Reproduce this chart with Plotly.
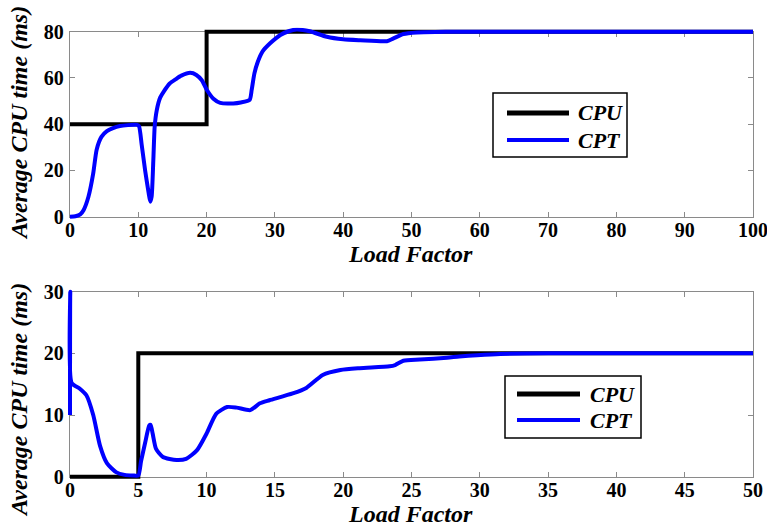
import plotly.graph_objects as go

# ---------------- data ----------------
cpu_top_x = [0, 20, 20, 100]
cpu_top_y = [40, 40, 80, 80]

cpt_top_x = [0, 0.8, 1.5, 2.0, 2.7, 3.4, 3.9, 4.6, 5.4, 6.3, 7.3, 8.5, 9.8,
             10.1, 10.5, 11.0, 11.5, 11.75, 11.95, 12.2, 12.4, 12.7, 13.2, 13.7,
             14.6, 15.5, 16.3, 17.6, 18.5, 19.3, 20.0, 21.0, 22.0, 23.9, 25.0,
             26.3, 26.6, 27.0, 27.5, 28.2, 29.3, 30.8, 32.0, 33.2, 35.1, 37.6,
             40.0, 42.5, 46.4, 47.3, 48.8, 50.8, 55, 60, 70, 80, 90, 100]
cpt_top_y = [0, 0.2, 1, 2.9, 8.6, 18.7, 29, 34.5, 37, 38.3, 39.2, 39.6, 39.7,
             39.2, 31, 20, 10.5, 6.5, 8.6, 24.5, 39, 46, 51.5, 54, 57.6, 59.5,
             61, 62.2, 61.3, 59, 55, 51, 49.2, 49, 49.4, 50.5, 54.8, 62, 67,
             71.5, 75, 78.6, 80.2, 81, 80.2, 77.8, 76.7, 76.3, 75.9, 77, 79,
             79.7, 80, 80, 80, 80, 80, 80]

cpu_bot_x = [0, 5, 5, 50]
cpu_bot_y = [0, 0, 20, 20]

cpt_bot_x = [0, 0.02, 0.12, 0.7, 1.2, 1.7, 2.2, 2.7, 3.4, 4.0, 4.6, 5.0, 5.2,
             5.5, 5.8, 5.9, 6.05, 6.3, 6.8, 7.8, 8.5, 9.3, 10.0, 10.7, 11.5,
             12.2, 13.2, 13.9, 14.6, 16.3, 17.3, 18.5, 19.8, 21.2, 23.4, 23.8,
             24.4, 25.6, 27.6, 28.5, 29.8, 31.5, 35, 40, 45, 50]
cpt_bot_y = [10, 30, 15.2, 14.3, 13.2, 10, 5, 2.2, 0.7, 0.3, 0.2, 0.2, 2.5,
             5.5, 8.3, 8.4, 7, 4.5, 3.2, 2.7, 2.9, 4.3, 7, 10.2, 11.3, 11.2,
             10.8, 11.9, 12.4, 13.5, 14.4, 16.5, 17.3, 17.6, 17.9, 18.1, 18.8,
             19.0, 19.3, 19.5, 19.7, 19.9, 20, 20, 20, 20]

top_xticks = [0, 10, 20, 30, 40, 50, 60, 70, 80, 90, 100]
top_yticks = [0, 20, 40, 60, 80]
bot_xticks = [0, 5, 10, 15, 20, 25, 30, 35, 40, 45, 50]
bot_yticks = [0, 10, 20, 30]

series_names = ["CPU", "CPT"]
series_colors = ["#000000", "#0000ff"]

# ---------------- layout helpers ----------------
W, H = 767, 528
ML, MR = 60, 4
PW = W - ML - MR
SERIF = '"Liberation Serif", "Times New Roman", Times, serif'
EXT = 4  # px: let the data lines run a few px past the frame (no clipping)

PLOT_L, PLOT_R = 70, 753
TOP_T, TOP_B = 31.7, 216.7
BOT_T, BOT_B = 291.7, 476.7


def px_x(p):
    return (p - ML) / PW


def px_y(p):
    return 1 - p / H


def ext_range(lo, hi, span_px):
    u = (hi - lo) / span_px * EXT
    return [lo - u, hi + u]


fig = go.Figure()

# empty traces so the framed (visible) axes get drawn
fig.add_trace(go.Scatter(x=[], y=[], mode="lines", xaxis="x", yaxis="y",
                         showlegend=False, hoverinfo="skip"))
fig.add_trace(go.Scatter(x=[], y=[], mode="lines", xaxis="x2", yaxis="y2",
                         showlegend=False, hoverinfo="skip"))

line_common = dict(width=4)
fig.add_trace(go.Scatter(x=cpu_top_x, y=cpu_top_y, mode="lines",
                         line=dict(color=series_colors[0], **line_common),
                         xaxis="x3", yaxis="y3", showlegend=False))
fig.add_trace(go.Scatter(x=cpt_top_x, y=cpt_top_y, mode="lines",
                         line=dict(color=series_colors[1], shape="spline",
                                   smoothing=0.6, **line_common),
                         xaxis="x3", yaxis="y3", showlegend=False))
fig.add_trace(go.Scatter(x=cpu_bot_x, y=cpu_bot_y, mode="lines",
                         line=dict(color=series_colors[0], **line_common),
                         xaxis="x4", yaxis="y4", showlegend=False))
fig.add_trace(go.Scatter(x=cpt_bot_x, y=cpt_bot_y, mode="lines",
                         line=dict(color=series_colors[1], shape="spline",
                                   smoothing=0.6, **line_common),
                         xaxis="x4", yaxis="y4", showlegend=False))

tickfont = dict(family=SERIF, size=20, color="black", weight="bold")
axis_common = dict(showline=True, linecolor="#8a8a8a", linewidth=1.3,
                   mirror="allticks", ticks="inside", ticklen=5,
                   tickcolor="#8a8a8a", tickwidth=1.3, showgrid=False,
                   zeroline=False, tickfont=tickfont, automargin=False,
                   ticklabeloverflow="allow")
xaxis_common = dict(ticklabelstandoff=-5, **axis_common)
yaxis_common = dict(ticklabelstandoff=1, **axis_common)
hidden = dict(visible=False, showgrid=False, zeroline=False, fixedrange=True)

xdom = [px_x(PLOT_L), px_x(PLOT_R)]
xdom_e = [px_x(PLOT_L - EXT), px_x(PLOT_R + EXT)]

fig.update_layout(
    width=W, height=H,
    margin=dict(l=ML, r=MR, t=0, b=0),
    paper_bgcolor="white", plot_bgcolor="rgba(0,0,0,0)",
    xaxis=dict(domain=xdom, range=[0, 100], tickvals=top_xticks,
               anchor="y", **xaxis_common),
    yaxis=dict(domain=[px_y(TOP_B), px_y(TOP_T)], range=[0, 80],
               tickvals=top_yticks, anchor="x", **yaxis_common),
    xaxis2=dict(domain=xdom, range=[0, 50], tickvals=bot_xticks,
                anchor="y2", **xaxis_common),
    yaxis2=dict(domain=[px_y(BOT_B), px_y(BOT_T)], range=[0, 30],
                tickvals=bot_yticks, anchor="x2", **yaxis_common),
    xaxis3=dict(domain=xdom_e, range=ext_range(0, 100, PLOT_R - PLOT_L),
                anchor="y3", **hidden),
    yaxis3=dict(domain=[px_y(TOP_B + EXT), px_y(TOP_T - EXT)],
                range=ext_range(0, 80, TOP_B - TOP_T), anchor="x3", **hidden),
    xaxis4=dict(domain=xdom_e, range=ext_range(0, 50, PLOT_R - PLOT_L),
                anchor="y4", **hidden),
    yaxis4=dict(domain=[px_y(BOT_B + EXT), px_y(BOT_T - EXT)],
                range=ext_range(0, 30, BOT_B - BOT_T), anchor="x4", **hidden),
)

title_font = dict(family=SERIF, size=24, color="black", weight="bold",
                  style="italic")

annotations = [
    dict(text="Load Factor", x=px_x(410), y=px_y(254), xref="paper",
         yref="paper", showarrow=False, font=title_font,
         xanchor="center", yanchor="middle"),
    dict(text="Load Factor", x=px_x(410), y=px_y(514), xref="paper",
         yref="paper", showarrow=False, font=title_font,
         xanchor="center", yanchor="middle"),
    dict(text="Average CPU time (ms)", x=px_x(19), y=px_y(123),
         xref="paper", yref="paper", showarrow=False, font=title_font,
         textangle=-90, xanchor="center", yanchor="middle"),
    dict(text="Average CPU time (ms)", x=px_x(19), y=px_y(400),
         xref="paper", yref="paper", showarrow=False, font=title_font,
         textangle=-90, xanchor="center", yanchor="middle"),
]

shapes = []
legend_font = dict(family=SERIF, size=22, color="black", weight="bold",
                   style="italic")
# legend boxes: (box x0, x1, y0, y1, line x0, x1, row1 y, row2 y, text x)
legends = [
    (493, 627, 93, 157, 507, 569, 113, 140, 576),
    (505, 641, 376, 438, 517, 580, 394, 420, 588),
]
for bx0, bx1, by0, by1, lx0, lx1, r1, r2, tx in legends:
    shapes.append(dict(type="rect", xref="paper", yref="paper",
                       x0=px_x(bx0), x1=px_x(bx1), y0=px_y(by1), y1=px_y(by0),
                       line=dict(color="black", width=1.5),
                       fillcolor="white", layer="above"))
    for name, color, ry, lw in zip(series_names, series_colors, [r1, r2],
                                   [5, 4]):
        shapes.append(dict(type="line", xref="paper", yref="paper",
                           x0=px_x(lx0), x1=px_x(lx1), y0=px_y(ry),
                           y1=px_y(ry), line=dict(color=color, width=lw),
                           layer="above"))
        annotations.append(dict(text=name, x=px_x(tx), y=px_y(ry),
                                xref="paper", yref="paper", showarrow=False,
                                font=legend_font, xanchor="left",
                                yanchor="middle"))

fig.update_layout(annotations=annotations, shapes=shapes)

fig.write_html("out.html")
